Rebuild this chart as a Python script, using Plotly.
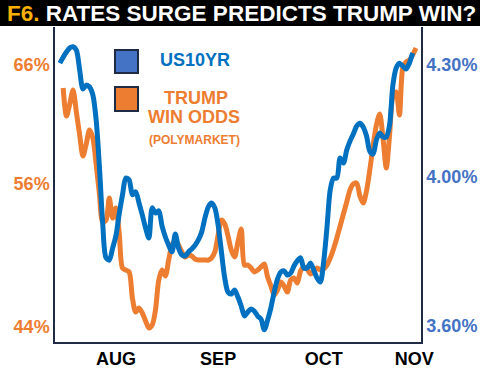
import plotly.graph_objects as go
import pandas as pd

# ---- data ----
dates = pd.date_range("2024-07-15", "2024-10-31", freq="D").strftime("%Y-%m-%d").tolist()

us10yr = [4.305, 4.321, 4.335, 4.346, 4.349, 4.340, 4.287, 4.236, 4.246, 4.241,
          4.220, 4.153, 4.027, 3.874, 3.783, 3.777, 3.809, 3.842, 3.901, 3.952,
          3.997, 3.992, 3.952, 3.960, 3.930, 3.898, 3.863, 3.836, 3.917, 3.903,
          3.909, 3.868, 3.839, 3.817, 3.799, 3.847, 3.809, 3.791, 3.788, 3.799,
          3.807, 3.817, 3.831, 3.852, 3.890, 3.919, 3.930, 3.917, 3.871, 3.799,
          3.729, 3.691, 3.686, 3.697, 3.678, 3.654, 3.627, 3.638, 3.646, 3.640,
          3.627, 3.619, 3.590, 3.616, 3.649, 3.691, 3.726, 3.745, 3.748, 3.737,
          3.742, 3.761, 3.775, 3.783, 3.756, 3.756, 3.769, 3.750, 3.729, 3.718,
          3.772, 3.863, 3.965, 3.997, 3.997, 4.051, 4.037, 4.072, 4.096, 4.115,
          4.136, 4.144, 4.134, 4.110, 4.069, 4.061, 4.099, 4.118, 4.107, 4.107,
          4.139, 4.246, 4.292, 4.305, 4.297, 4.289, 4.305, 4.332, None]

trump_odds = [None, 64.07, 61.71, 62.72, 63.90, 62.05, 60.12, 58.35, 59.36, 60.54,
              59.87, 57.68, 55.16, 52.81, 52.97, 54.82, 53.14, 53.98, 51.88, 48.94,
              48.77, 48.61, 46.42, 45.24, 45.58, 45.16, 44.49, 43.90, 44.15, 45.41,
              47.93, 48.77, 48.27, 49.61, 50.87, 51.29, 50.87, 50.29, 49.87, 50.03,
              49.95, 49.70, 49.61, 49.61, 49.61, 49.61, 49.78, 50.29, 51.71, 52.97,
              52.64, 51.63, 50.45, 49.87, 51.13, 52.22, 49.19, 49.19, 48.94, 48.61,
              48.77, 49.03, 49.28, 48.18, 47.43, 46.67, 47.09, 47.76, 47.43, 46.92,
              47.93, 48.10, 47.68, 48.69, 49.03, 48.86, 48.44, 48.61, 48.94, 48.77,
              48.86, 49.19, 49.78, 50.54, 51.46, 52.47, 53.48, 54.49, 55.50, 56.00,
              56.08, 54.99, 54.40, 55.41, 57.18, 59.19, 60.96, 61.88, 59.87, 57.34,
              60.12, 63.31, 63.73, 61.80, 65.75, 66.25, 66.42, 66.84, 67.43]

month_ticks = ["2024-08-01", "2024-09-01", "2024-10-03", "2024-10-30 12:00"]
month_labels = ["AUG", "SEP", "OCT", "NOV"]
left_ticks = [44, 56, 66]
left_labels = ["44%", "56%", "66%"]
right_ticks = [3.60, 4.00, 4.30]
right_labels = ["3.60%", "4.00%", "4.30%"]

# ---- style ----
FONT = "Liberation Sans, Arial, sans-serif"
BLUE_LINE = "#0070C0"
BLUE_TICK = "#4472C4"
ORANGE = "#ED7D31"
NAVY = "#1F2A44"
GOLD = "#F5B000"

fig = go.Figure()
fig.add_trace(go.Scatter(x=dates, y=trump_odds, mode="lines", name="TRUMP WIN ODDS",
                         line=dict(color=ORANGE, width=5, shape="spline", smoothing=0.8),
                         yaxis="y"))
fig.add_trace(go.Scatter(x=dates, y=us10yr, mode="lines", name="US10YR",
                         line=dict(color=BLUE_LINE, width=5, shape="spline", smoothing=0.8),
                         yaxis="y2"))

fig.update_layout(
    width=480, height=373,
    margin=dict(l=55, r=59, t=27, b=31, autoexpand=False),
    plot_bgcolor="white", paper_bgcolor="white",
    showlegend=False,
    font=dict(family=FONT),
    xaxis=dict(type="date", range=["2024-07-13 12:34", "2024-11-01 12:43"],
               tickvals=month_ticks, ticktext=month_labels, automargin=False,
               showline=True, linecolor=NAVY, linewidth=1.5,
               showgrid=False, zeroline=False, ticks="",
               tickfont=dict(family=FONT, size=18, color="black", weight="bold")),
    yaxis=dict(range=[42.723, 69.193], tickvals=left_ticks, ticktext=left_labels,
               automargin=False,
               showline=True, linecolor=NAVY, linewidth=1.5,
               showgrid=False, zeroline=False, ticks="",
               tickfont=dict(family=FONT, size=18, color=ORANGE, weight="bold")),
    yaxis2=dict(range=[3.5574, 4.4019], tickvals=right_ticks, ticktext=right_labels,
                overlaying="y", side="right", automargin=False,
                showline=True, linecolor=NAVY, linewidth=1.5,
                showgrid=False, zeroline=False, ticks="",
                tickfont=dict(family=FONT, size=18, color=BLUE_TICK, weight="bold")),
)

# title bar
fig.add_shape(type="rect", xref="paper", yref="paper",
              x0=-0.16, x1=1.17, y0=1.0032, y1=1.10,
              fillcolor="black", line=dict(width=0), layer="above")
fig.add_annotation(xref="paper", yref="paper", x=-0.1366, y=1.0413,
                   xanchor="left", yanchor="middle", showarrow=False,
                   text=f"<span style='color:{GOLD}'>F6.</span> RATES SURGE PREDICTS TRUMP WIN?",
                   font=dict(family=FONT, size=22.5, color="white", weight="bold"))

# custom legend
fig.add_shape(type="rect", xref="paper", yref="paper",
              x0=0.1639, x1=0.2268, y0=0.854, y1=0.927,
              fillcolor=BLUE_TICK, line=dict(color=NAVY, width=2), layer="above")
fig.add_shape(type="rect", xref="paper", yref="paper",
              x0=0.1639, x1=0.2268, y0=0.7333, y1=0.8095,
              fillcolor=ORANGE, line=dict(color=NAVY, width=2), layer="above")
fig.add_annotation(xref="paper", yref="paper", x=0.3825, y=0.8952,
                   xanchor="center", yanchor="middle", showarrow=False,
                   text="US10YR", font=dict(family=FONT, size=18, color=BLUE_LINE, weight="bold"))
fig.add_annotation(xref="paper", yref="paper", x=0.3839, y=0.7746,
                   xanchor="center", yanchor="middle", showarrow=False,
                   text="TRUMP", font=dict(family=FONT, size=18, color=ORANGE, weight="bold"))
fig.add_annotation(xref="paper", yref="paper", x=0.3811, y=0.7127,
                   xanchor="center", yanchor="middle", showarrow=False,
                   text="WIN ODDS", font=dict(family=FONT, size=18, color=ORANGE, weight="bold"))
fig.add_annotation(xref="paper", yref="paper", x=0.3811, y=0.6413,
                   xanchor="center", yanchor="middle", showarrow=False,
                   text="(POLYMARKET)", font=dict(family=FONT, size=12, color=ORANGE, weight="bold"))

fig.write_html("out.html", config={"displayModeBar": False},
               post_script="document.body.style.margin='0';document.body.style.overflow='hidden';")
